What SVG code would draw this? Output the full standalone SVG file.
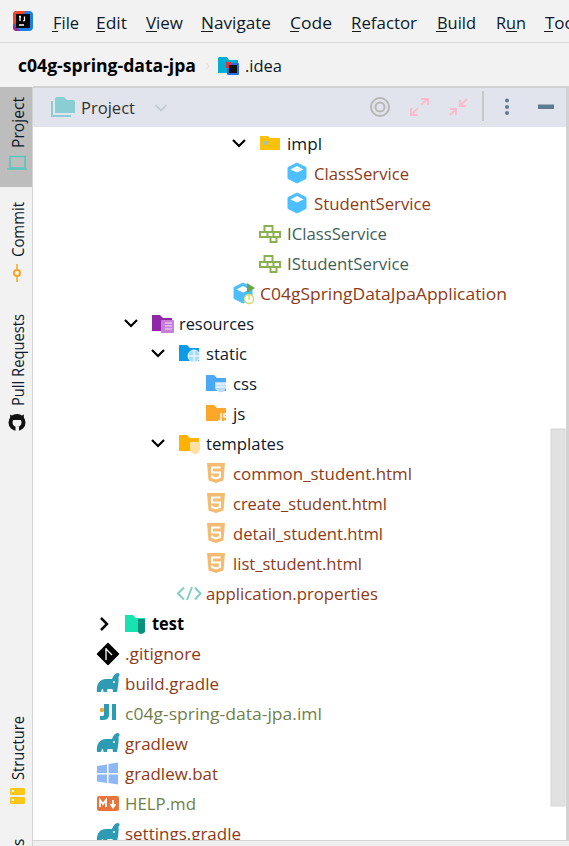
<svg xmlns="http://www.w3.org/2000/svg" width="569" height="846" viewBox="0 0 569 846">
<style>
text{font-family:"Open Sans","Noto Sans","Liberation Sans",sans-serif;font-size:17px;fill:#0c1a2b}
.m{fill:#8f3a16}
.g{fill:#6f7f4a}
.t{fill:#3f6158}
.b{font-weight:700;fill:#000}
.s{font-size:15.500px}
.chev{fill:none;stroke:#000;stroke-width:2.200}
.ul{fill:#1a1a1a}
</style>
<defs>
<g id="cube"><path d="M0-10 9-5.500V5.500L0 10-9 5.500V-5.500Z" fill="#4dbfff" stroke="#4dbfff" stroke-linejoin="round"/><path d="M0-7 6.500-3.500 0-.5-6.500-3.500Z" fill="#fff"/></g>
<g id="iface" fill="none" stroke="#8ab04f" stroke-width="2"><path d="M-5.500-7H2.500V-1H-5.500ZM-10-1H-2.500V4H-10ZM-2.500-1H3.500V4H-2.500ZM3.500-1H10V4H3.500ZM0.500 4H6.500V9H0.500Z"/></g>
<g id="html"><path d="M-9-10H9L7.500 7.500 0 10-7.500 7.500Z" fill="#f4bc73"/><path d="M4.500-5.500H-4V-.5H4V4L0 5.500-4 4V2.500" fill="none" stroke="#fff" stroke-width="2"/></g>
<g id="gradle"><path d="M-11 8C-12 0-8-5-2-5H4C5-8 7-11 10-11 12-11 12-8 10.500-7.500 11-3 10 3 9 8H5L4.500 5H-.5L-1 8H-4.500L-5 5H-6L-7 8Z" fill="#2e9bb4"/><circle cx="6" cy="-2" r="1" fill="#fff"/></g>
</defs>

<rect width="569" height="846" fill="#fff"/>
<rect width="569" height="87" fill="#f2f2f2"/>
<rect y="42" width="569" height="1" fill="#d8d8d8"/>

<g id="menu">
<rect x="13" y="11" width="20" height="20" rx="4" fill="#1f7fe0"/>
<path d="M13 15Q13 11 17 11H26L13 26Z" fill="#f0452e"/>
<path d="M13 24 20 31H17Q13 31 13 27Z" fill="#a0278f"/>
<rect x="16" y="14" width="14" height="14" fill="#000"/>
<path d="M19 16.500H21M20 16.500V21M24.500 16.500V20.500L23 21M19 25H24" stroke="#fff" stroke-width="1.300" fill="none"/>
<text x="53" y="29" textLength="26" lengthAdjust="spacingAndGlyphs">File</text><rect class="ul" x="52" y="31" width="6" height="1"/>
<text x="96" y="29" textLength="31" lengthAdjust="spacingAndGlyphs">Edit</text><rect class="ul" x="96" y="31" width="9" height="1"/>
<text x="146" y="29" textLength="37" lengthAdjust="spacingAndGlyphs">View</text><rect class="ul" x="146" y="31" width="11" height="1"/>
<text x="201" y="29" textLength="70" lengthAdjust="spacingAndGlyphs">Navigate</text><rect class="ul" x="201" y="31" width="12" height="1"/>
<text x="290" y="29" textLength="42" lengthAdjust="spacingAndGlyphs">Code</text><rect class="ul" x="290" y="31" width="9" height="1"/>
<text x="351" y="29" textLength="66" lengthAdjust="spacingAndGlyphs">Refactor</text><rect class="ul" x="352" y="31" width="9" height="1"/>
<text x="437" y="29" textLength="39" lengthAdjust="spacingAndGlyphs">Build</text><rect class="ul" x="436" y="31" width="11" height="1"/>
<text x="496" y="29" textLength="30" lengthAdjust="spacingAndGlyphs">Run</text><rect class="ul" x="506" y="31" width="11" height="1"/>
<text x="545" y="29">Too</text><rect class="ul" x="544" y="31" width="9" height="1"/>
</g>

<g id="breadcrumb">
<text class="b" x="18" y="72" style="font-size:17.500px" textLength="178" lengthAdjust="spacingAndGlyphs">c04g-spring-data-jpa</text>
<path d="M206 63 209 66 206 69" fill="none" stroke="#e4e4e4" stroke-width="1.200"/>
<path d="M218 58V73H238V60H229L227 57H219Z" fill="#00aed1"/>
<rect x="227" y="63" width="12" height="12" rx="1" fill="#2b6be0"/>
<rect x="226" y="62" width="5" height="6" fill="#d9363e"/><rect x="229" y="65" width="8" height="8" fill="#111"/>
<text x="245" y="72" textLength="37" lengthAdjust="spacingAndGlyphs">.idea</text>
</g>

<g id="left-bar">
<rect y="87" width="33" height="759" fill="#f2f2f2"/>
<rect x="32" y="87" width="1" height="759" fill="#d3d3d3"/>
<rect y="87" width="32" height="100" fill="#bdbdbd"/>
<text class="s" transform="translate(24 148) rotate(-90)" textLength="51" lengthAdjust="spacingAndGlyphs">Project</text>
<path d="M10 156.500H25V168H10ZM7 169H27" fill="none" stroke="#5cc5bd" stroke-width="1.700"/>
<text class="s" transform="translate(24 257) rotate(-90)" textLength="55" lengthAdjust="spacingAndGlyphs">Commit</text>
<path d="M17 264V282" stroke="#f5a623" stroke-width="1.500"/><circle cx="17" cy="273" r="3" fill="#f2f2f2" stroke="#f5a623" stroke-width="2"/>
<text class="s" transform="translate(24 406) rotate(-90)" textLength="92" lengthAdjust="spacingAndGlyphs">Pull Requests</text>
<circle cx="17" cy="422.500" r="6.500" fill="#f2f2f2" stroke="#111" stroke-width="4"/><path d="M10 414.500 14 416.500H20L24 414.500 23.500 420H10.500Z" fill="#111"/><rect x="15.500" y="427" width="3.500" height="5" fill="#f2f2f2"/>
<text class="s" transform="translate(24 780) rotate(-90)" textLength="64" lengthAdjust="spacingAndGlyphs">Structure</text>
<rect x="10" y="788" width="15" height="7" rx="1" fill="#ffc61a"/><rect x="10" y="797" width="15" height="7" rx="1" fill="#ffc61a"/>
<rect x="12" y="790" width="2" height="2" fill="#fff"/><rect x="12" y="799" width="2" height="2" fill="#fff"/>
<text class="s" transform="translate(24 846) rotate(-90)">s</text>
</g>

<g id="toolbar">
<rect x="33" y="87" width="536" height="40" fill="#e1e4ec"/>
<rect x="33" y="86" width="536" height="2" fill="#d2d2d2"/>
<path d="M55 99Q55 97 57 97H64L67 100H73Q75 100 75 102V113H55Z" fill="#88ced3"/>
<path d="M52 101V116H71" fill="none" stroke="#88ced3" stroke-width="2"/>
<text x="81" y="114" style="fill:#333" textLength="54" lengthAdjust="spacingAndGlyphs">Project</text>
<path d="M155.500 105 161 110.500 166.500 105" fill="none" stroke="#c6ccd6" stroke-width="1.800"/>
<circle cx="380" cy="107" r="9" fill="none" stroke="#b7b7b7" stroke-width="2"/><circle cx="380" cy="107" r="4.500" fill="none" stroke="#b7b7b7" stroke-width="2"/>
<g fill="none" stroke="#fbbcd0" stroke-width="2">
<path d="M411 115 418 108M421 105 427 99M421 99H428V105M411 108V115H418"/>
<path d="M450 115 456 109M450 109H456V115M467 99 460 106M460 100V106H466"/>
</g>
<rect x="482" y="91" width="2" height="30" fill="#c8c8c8"/>
<g fill="#5e7c8f"><circle cx="507" cy="100.500" r="2"/><circle cx="507" cy="107" r="2"/><circle cx="507" cy="113" r="2"/><rect x="538" y="104.500" width="16" height="4.500"/></g>
</g>

<g id="scrollbar">
<rect x="551" y="429" width="14" height="377" fill="#e1e1e1" stroke="#d6d6d6"/>
<rect x="566" y="87" width="3" height="753" fill="#d2d2d2"/>
<rect y="841" x="33" width="536" height="5" fill="#efefef"/><rect y="840" x="33" width="536" height="1" fill="#d6d6d6"/>
</g>

<g id="tree">
<g id="impl"><path class="chev" d="M233 140 239 146 245 140"/>
<path d="M260 136H268L270 138H280V150H260Z" fill="#ffc107"/><circle cx="266" cy="143" r="2.200" fill="#8ecbc6"/>
<text x="287" y="150" textLength="35" lengthAdjust="spacingAndGlyphs">impl</text></g>
<g id="ClassService"><use href="#cube" x="297" y="173"/><text class="m" x="314" y="180" textLength="95" lengthAdjust="spacingAndGlyphs">ClassService</text></g>
<g id="StudentService"><use href="#cube" x="297" y="203"/><text class="m" x="314" y="210" textLength="117" lengthAdjust="spacingAndGlyphs">StudentService</text></g>
<g id="IClassService"><use href="#iface" x="270" y="233"/><text class="t" x="287" y="240" textLength="100" lengthAdjust="spacingAndGlyphs">IClassService</text></g>
<g id="IStudentService"><use href="#iface" x="270" y="263"/><text class="t" x="287" y="270" textLength="122" lengthAdjust="spacingAndGlyphs">IStudentService</text></g>
<g id="App"><use href="#cube" x="243" y="293"/><path d="M247 283 255 288 247 293Z" fill="#6aa84f"/><circle cx="249" cy="299" r="4.500" fill="#fff" stroke="#d6dc6a" stroke-width="1.500"/><path d="M249 295V300" stroke="#d6dc6a" stroke-width="1.500"/>
<text class="m" x="260" y="300" textLength="247" lengthAdjust="spacingAndGlyphs">C04gSpringDataJpaApplication</text></g>
<g id="resources"><path class="chev" d="M125 320 131 326 137 320"/>
<path d="M152 315H160L163 318H172V331H152Z" fill="#9027a8"/><rect x="161" y="320" width="13" height="13" rx="1" fill="#c67fd6"/><path d="M165 323H172M165 326H172M165 329H172" stroke="#f3def7" stroke-width="1"/>
<text x="179" y="330" textLength="75" lengthAdjust="spacingAndGlyphs">resources</text></g>
<g id="static"><path class="chev" d="M152 350 158 356 164 350"/>
<path d="M179 345H187L190 348H199V361H179Z" fill="#0d9be8"/><circle cx="194" cy="356" r="6" fill="#a8dcf8" stroke="#e6f5fd"/><path d="M188 356H200M194 350V362" stroke="#fff"/>
<text x="206" y="360" textLength="41" lengthAdjust="spacingAndGlyphs">static</text></g>
<g id="css"><path d="M206 375H214L217 378H226V391H206Z" fill="#4aa8f5"/><path d="M215 382H226V388Q224 393 220 392 216 391 215 388Z" fill="#b9dcfb"/><path d="M216 384H226M216 387H225" stroke="#fff"/>
<text x="233" y="390" textLength="24" lengthAdjust="spacingAndGlyphs">css</text></g>
<g id="js"><path d="M206 405H214L217 408H226V421H206Z" fill="#faa72a"/><path d="M221 413V421L218 421M227 414H224V417H227V421H224" stroke="#fff" stroke-width="1.500" fill="none"/>
<text x="233" y="420">js</text></g>
<g id="templates"><path class="chev" d="M152 440 158 446 164 440"/>
<path d="M179 435H187L190 438H199V451H179Z" fill="#ffb300"/><path d="M190 442H200V450Q198 454 195 454 192 454 190 450Z" fill="#ffe0a3"/>
<text x="206" y="450" textLength="78" lengthAdjust="spacingAndGlyphs">templates</text></g>
<g id="common"><use href="#html" x="216" y="473"/><text class="m" x="233" y="480" textLength="179" lengthAdjust="spacingAndGlyphs">common_student.html</text></g>
<g id="create"><use href="#html" x="216" y="503"/><text class="m" x="233" y="510" textLength="154" lengthAdjust="spacingAndGlyphs">create_student.html</text></g>
<g id="detail"><use href="#html" x="216" y="533"/><text class="m" x="233" y="540" textLength="150" lengthAdjust="spacingAndGlyphs">detail_student.html</text></g>
<g id="list"><use href="#html" x="216" y="563"/><text class="m" x="233" y="570" textLength="129" lengthAdjust="spacingAndGlyphs">list_student.html</text></g>
<g id="props"><path d="M184 587.500 178 593.500 184 599.500M192 587 187 600M195 587.500 200.500 593.500 195 599.500" fill="none" stroke="#82cfc8" stroke-width="2"/>
<text class="m" x="206" y="600" textLength="172" lengthAdjust="spacingAndGlyphs">application.properties</text></g>
<g id="test"><path class="chev" d="M101 618 107 624 101 630" style="stroke-width:2.500"/>
<path d="M125 615H133L136 618H145V632H125Z" fill="#17e3b0"/><path d="M138 619H145V632Q143 634 141 634 139 634 138 632Z" fill="#0d8f7d"/>
<text class="b" x="152" y="630" textLength="32" lengthAdjust="spacingAndGlyphs">test</text></g>
<g id="gitignore"><path d="M108 643.500 118.500 654 108 664.500 97.500 654Z" fill="#000" stroke="#000" stroke-linejoin="round" stroke-width="1.500"/><path d="M106 648V660M106 649 112 655" stroke="#fff" stroke-width="1.300" fill="none"/>
<text class="m" x="125" y="660" textLength="76" lengthAdjust="spacingAndGlyphs">.gitignore</text></g>
<g id="build"><use href="#gradle" x="108" y="684"/><text class="m" x="125" y="690" textLength="94" lengthAdjust="spacingAndGlyphs">build.gradle</text></g>
<g id="iml"><path d="M104 704H109V715Q109 720 103 720H100V716H103Q104 716 104 714ZM112 704H116V720H112Z" fill="#2e9bb4"/><circle cx="102" cy="710" r="2.200" fill="#f5a623"/>
<text class="g" x="125" y="720" textLength="197" lengthAdjust="spacingAndGlyphs">c04g-spring-data-jpa.iml</text></g>
<g id="gradlew"><use href="#gradle" x="108" y="744"/><text class="m" x="125" y="750" textLength="63" lengthAdjust="spacingAndGlyphs">gradlew</text></g>
<g id="bat"><path d="M97 766 107 764.500V773H97ZM108.500 764 118 762.500V773H108.500ZM97 774.500H107V783L97 781.500ZM108.500 774.500H118V784.500L108.500 783Z" fill="#8db8f5"/>
<text class="m" x="125" y="780" textLength="93" lengthAdjust="spacingAndGlyphs">gradlew.bat</text></g>
<g id="help"><rect x="97" y="796" width="22" height="15" rx="2" fill="#e8743b"/><path d="M100 807V800L103 804 106 800V807M113 800V806M110.500 804 113 807.500 115.500 804" fill="none" stroke="#fff" stroke-width="1.800"/>
<text class="g" x="125" y="810" textLength="71" lengthAdjust="spacingAndGlyphs">HELP.md</text></g>
<g id="settings"><svg x="90" y="815" width="300" height="25" viewBox="90 815 300 25"><use href="#gradle" x="108" y="834"/><text class="m" x="125" y="840" textLength="116" lengthAdjust="spacingAndGlyphs">settings.gradle</text></svg></g>
</g>
</svg>
